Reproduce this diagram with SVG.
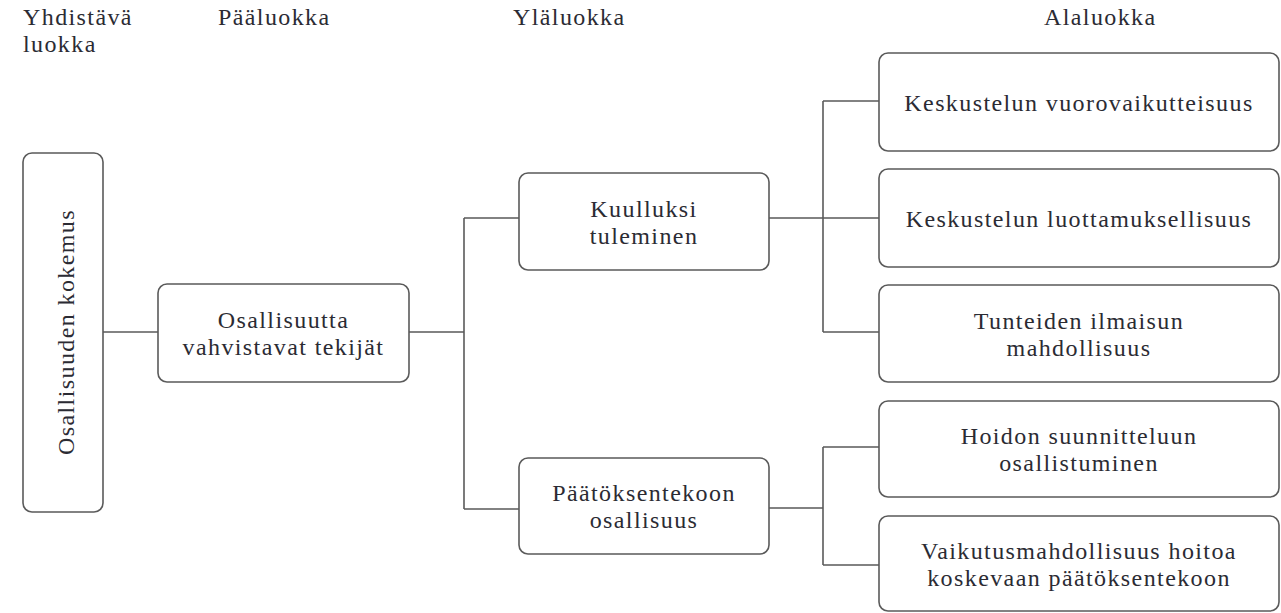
<svg xmlns="http://www.w3.org/2000/svg" width="1281" height="613" viewBox="0 0 1281 613">
<style>
.box{fill:#fff;stroke:#5a5a5a;stroke-width:1.6}
.con{fill:none;stroke:#5a5a5a;stroke-width:1.6}
text{font-family:"Liberation Serif","Times New Roman",serif;font-size:24px;fill:#2b2b33;letter-spacing:1.4px}
.c{text-anchor:middle}
</style>
<rect width="1281" height="613" fill="#fff"/>
<g id="headers">
<text x="23" y="25">Yhdistävä</text>
<text x="23" y="52">luokka</text>
<text x="218" y="25">Pääluokka</text>
<text x="513" y="25">Yläluokka</text>
<text x="1044" y="25">Alaluokka</text>
</g>
<g id="connectors">
<path class="con" d="M103 332H158"/>
<path class="con" d="M409 332H464M464 218V509M464 218H519M464 509H519"/>
<path class="con" d="M769 218H879M823 101V332M823 101H879M823 332H879"/>
<path class="con" d="M769 508H823M823 447V565M823 447H879M823 565H879"/>
</g>
<g id="n-osallisuuden-kokemus">
<rect class="box" x="23" y="153" width="80" height="359" rx="9"/>
<text class="c" transform="translate(74,332) rotate(-90)" x="0" y="0">Osallisuuden kokemus</text>
</g>
<g id="n-osallisuutta">
<rect class="box" x="158" y="284" width="251" height="98" rx="9"/>
<text class="c" x="283.5" y="328">Osallisuutta</text>
<text class="c" x="283.5" y="355">vahvistavat tekijät</text>
</g>
<g id="n-kuulluksi">
<rect class="box" x="519" y="173" width="250" height="97" rx="9"/>
<text class="c" x="644" y="216.5">Kuulluksi</text>
<text class="c" x="644" y="243.5">tuleminen</text>
</g>
<g id="n-paatoksenteko">
<rect class="box" x="519" y="458" width="250" height="96" rx="9"/>
<text class="c" x="644" y="501">Päätöksentekoon</text>
<text class="c" x="644" y="528">osallisuus</text>
</g>
<g id="n-vuorovaikutteisuus">
<rect class="box" x="879" y="53" width="400" height="98" rx="9"/>
<text class="c" x="1079" y="111">Keskustelun vuorovaikutteisuus</text>
</g>
<g id="n-luottamuksellisuus">
<rect class="box" x="879" y="169" width="400" height="98" rx="9"/>
<text class="c" x="1079" y="227">Keskustelun luottamuksellisuus</text>
</g>
<g id="n-tunteiden">
<rect class="box" x="879" y="285" width="400" height="97" rx="9"/>
<text class="c" x="1079" y="328.5">Tunteiden ilmaisun</text>
<text class="c" x="1079" y="355.5">mahdollisuus</text>
</g>
<g id="n-hoidon">
<rect class="box" x="879" y="401" width="400" height="96" rx="9"/>
<text class="c" x="1079" y="444">Hoidon suunnitteluun</text>
<text class="c" x="1079" y="471">osallistuminen</text>
</g>
<g id="n-vaikutus">
<rect class="box" x="879" y="516" width="400" height="95" rx="9"/>
<text class="c" x="1079" y="559">Vaikutusmahdollisuus hoitoa</text>
<text class="c" x="1079" y="586">koskevaan päätöksentekoon</text>
</g>
</svg>
